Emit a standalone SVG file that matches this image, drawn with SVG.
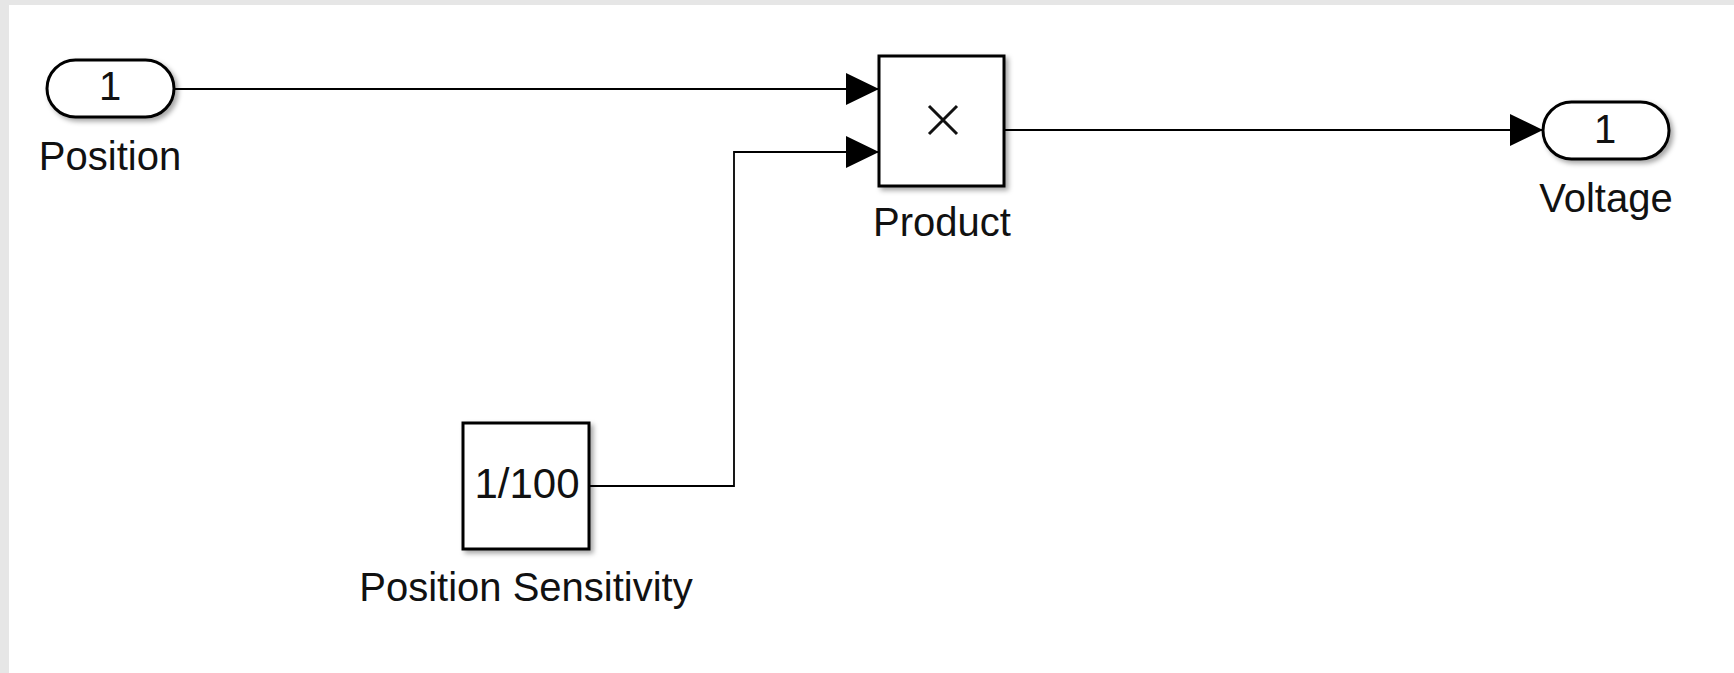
<svg xmlns="http://www.w3.org/2000/svg" width="1734" height="673" viewBox="0 0 1734 673">
<defs>
<style>
.blk{fill:#fff;stroke:#000;stroke-width:3}
.lbl{font-family:"Liberation Sans",Arial,sans-serif;font-size:40px;fill:#111}
.big{font-size:42px}
.wire{fill:none;stroke:#000;stroke-width:1.8}
</style>
<filter id="sh" x="-20%" y="-20%" width="150%" height="150%">
<feDropShadow dx="3" dy="3" stdDeviation="2.5" flood-color="#000" flood-opacity="0.35"/>
</filter>
<marker id="arr" markerUnits="userSpaceOnUse" markerWidth="34" markerHeight="34" viewBox="0 0 34 34" refX="33" refY="17" orient="auto">
<path d="M0,1 L33,17 L0,33 Z" fill="#000"/>
</marker>
</defs>
<rect x="0" y="0" width="1734" height="673" fill="#e6e6e6"/>
<rect x="9" y="5" width="1725" height="668" fill="#fff"/>
<g id="connectors">
<path class="wire" d="M174,89 H879" marker-end="url(#arr)"/>
<path class="wire" d="M589,486 H734 V152 H879" marker-end="url(#arr)"/>
<path class="wire" d="M1004,130 H1543" marker-end="url(#arr)"/>
</g>
<g id="inport-position">
<rect class="blk" x="47" y="60" width="127" height="57" rx="28.5" filter="url(#sh)"/>
<text class="lbl" x="110" y="100" text-anchor="middle">1</text>
<text class="lbl" x="110" y="170" text-anchor="middle">Position</text>
</g>
<g id="product">
<rect class="blk" x="879" y="56" width="125" height="130" filter="url(#sh)"/>
<path d="M929,106 L957,134 M957,106 L929,134" stroke="#111" stroke-width="3" fill="none"/>
<text class="lbl" x="942" y="236" text-anchor="middle">Product</text>
</g>
<g id="outport-voltage">
<rect class="blk" x="1543" y="102" width="126" height="57" rx="28.5" filter="url(#sh)"/>
<text class="lbl" x="1605" y="143" text-anchor="middle">1</text>
<text class="lbl" x="1606" y="212" text-anchor="middle">Voltage</text>
</g>
<g id="position-sensitivity">
<rect class="blk" x="463" y="423" width="126" height="126" filter="url(#sh)"/>
<text class="lbl big" x="527" y="498" text-anchor="middle">1/100</text>
<text class="lbl" x="526" y="601" text-anchor="middle">Position Sensitivity</text>
</g>
</svg>
